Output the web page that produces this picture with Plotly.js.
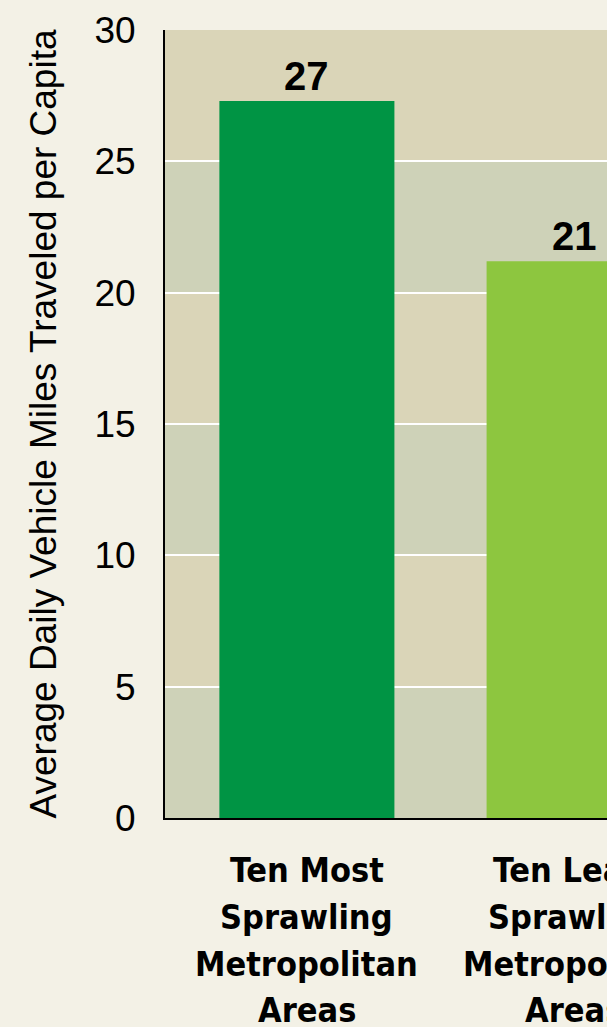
<!DOCTYPE html>
<html>
<head>
<meta charset="utf-8">
<script src="https://cdn.plot.ly/plotly-3.0.1.min.js"></script>
<style>
  html, body { margin: 0; padding: 0; background: #f3f1e6; overflow: hidden; width: 607px; height: 1027px; }
  #chart { width: 760px; height: 1027px; }
</style>
</head>
<body>
<div id="chart"></div>
<script>
// ---- data ----
const categories = ["Ten Most Sprawling Metropolitan Areas", "Ten Least Sprawling Metropolitan Areas"];
const categoryLines = [["Ten Most", "Sprawling", "Metropolitan", "Areas"], ["Ten Least", "Sprawling", "Metropolitan", "Areas"]];
const values = [27.3, 21.2];
const valueLabels = ["27", "21"];
const barColors = ["#009444", "#8dc63f"];
const yTickValues = [0, 5, 10, 15, 20, 25, 30];
const yTitle = "Average Daily Vehicle Miles Traveled per Capita";

// ---- styling ----
const bandColors = ["#ced2b8", "#dad5b8"];
const bgColor = "#f3f1e6";
const labelFont = "'DejaVu Sans Condensed', 'Liberation Sans', Arial, sans-serif";
const plainFont = "'Liberation Sans', Arial, sans-serif";

const shapes = [];
for (let i = 0; i < yTickValues.length - 1; i++) {
  shapes.push({
    type: "rect", xref: "paper", yref: "y", layer: "below",
    x0: 0, x1: 1, y0: yTickValues[i], y1: yTickValues[i + 1],
    fillcolor: bandColors[i % 2], line: { width: 0 }
  });
}

const annotations = [];
values.forEach((v, i) => {
  annotations.push({
    x: i, y: v, xref: "x", yref: "y", text: valueLabels[i], showarrow: false,
    xanchor: "center", yanchor: "bottom", yshift: 1,
    font: { family: plainFont, size: 40, color: "#000", weight: "bold" }
  });
});
const lineOffsets = [0, 47, 94, 140];
categoryLines.forEach((lines, i) => {
  lines.forEach((ln, j) => {
    annotations.push({
      x: i, y: 0, xref: "x", yref: "paper", text: "<b>" + ln + "</b>", showarrow: false,
      xanchor: "center", yanchor: "top", yshift: -30 - lineOffsets[j],
      font: { family: labelFont, size: 34, color: "#000" }
    });
  });
});

const trace = {
  type: "bar",
  x: categories.map((c, i) => i),
  y: values,
  marker: { color: barColors, line: { width: 0 } },
  width: 0.655,
  hoverinfo: "skip"
};

const layout = {
  width: 760, height: 1027,
  margin: { l: 165, r: 44, t: 30, b: 209 },
  paper_bgcolor: bgColor,
  plot_bgcolor: bgColor,
  showlegend: false,
  shapes: shapes,
  annotations: annotations,
  xaxis: {
    range: [-0.531, 1.531],
    showticklabels: false, ticks: "", showgrid: false, zeroline: false,
    showline: true, linecolor: "#000", linewidth: 2
  },
  yaxis: {
    range: [0, 30], tickvals: yTickValues, ticks: "",
    showgrid: true, gridcolor: "#ffffff", gridwidth: 2,
    zeroline: false, showline: true, linecolor: "#000", linewidth: 2,
    ticklabelstandoff: 20,
    tickfont: { family: plainFont, size: 37, color: "#000" },
    title: { text: yTitle, standoff: 26, font: { family: plainFont, size: 37, color: "#000" } }
  }
};

Plotly.newPlot("chart", [trace], layout, { displayModeBar: false, staticPlot: true });
</script>
</body>
</html>
